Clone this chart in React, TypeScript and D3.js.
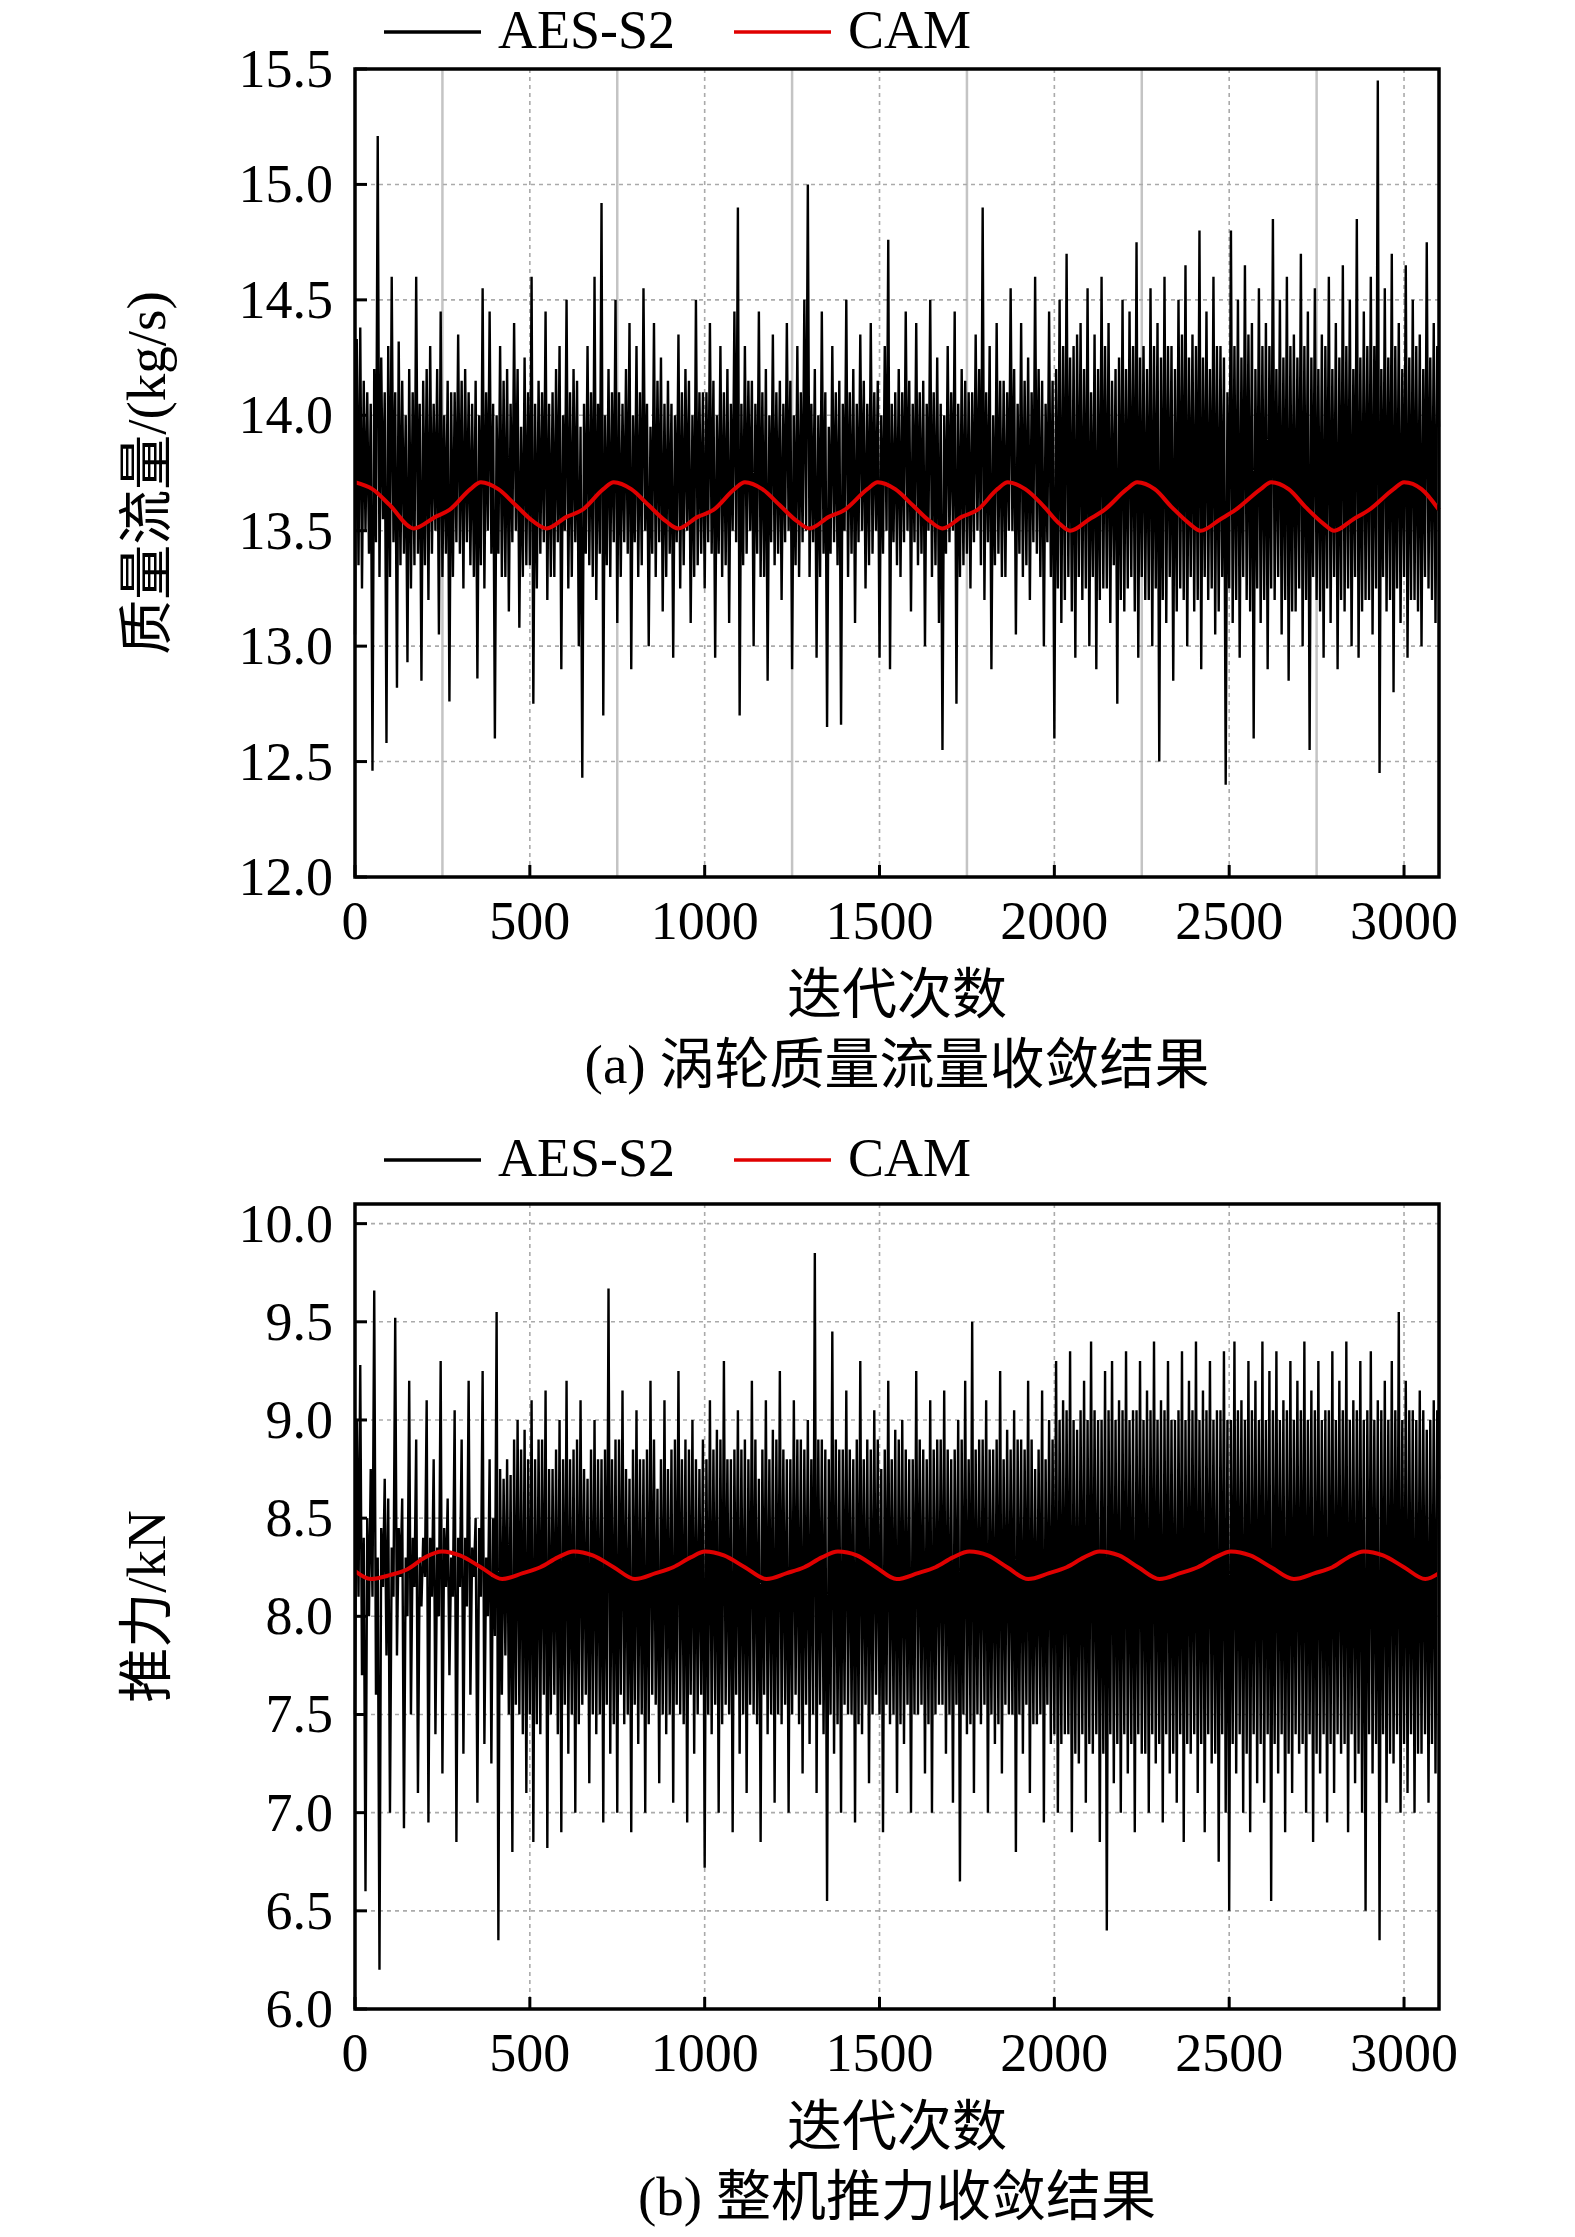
import { curveMonotoneX, line, scaleLinear } from "d3";

// iteration spacing of the sampled AES-S2 values
const iterStep = 5;

// (a) turbine mass flow, kg/s — AES-S2 samples every 5 iterations (one row = 100 iterations)
const flowAES = [
  13.05, 14.33, 13.35, 14.38, 13.25, 14.15, 13.5, 14.1, 13.4, 14.05, 12.46, 14.2, 13.45, 15.21, 13.3, 14.25, 13.55, 14.1, 12.58, 14.3,
  13.3, 14.6, 13.45, 14.1, 12.82, 14.32, 13.35, 14.15, 13.4, 14.0, 12.93, 14.2, 13.25, 14.1, 13.35, 14.6, 13.4, 14.05, 12.85, 14.15,
  13.35, 14.2, 13.2, 14.3, 13.4, 14.05, 13.5, 14.2, 13.05, 14.45, 13.3, 14.0, 13.4, 14.15, 12.76, 14.1, 13.3, 14.1, 13.45, 14.35,
  13.4, 14.15, 13.25, 14.2, 13.45, 14.1, 13.35, 14.05, 13.3, 14.15, 12.86, 14.0, 13.35, 14.55, 13.25, 14.1, 13.5, 14.45, 13.4, 14.05,
  12.6, 14.0, 13.4, 14.3, 13.3, 14.15, 13.3, 14.2, 13.15, 14.05, 13.45, 14.4, 13.5, 14.2, 13.08, 13.95, 13.3, 14.25, 13.35, 14.1,
  13.35, 14.6, 12.75, 14.05, 13.25, 14.15, 13.4, 14.1, 13.45, 14.45, 13.2, 14.05, 13.3, 14.1, 13.3, 14.2, 13.45, 14.3, 12.9, 14.0,
  13.5, 14.5, 13.25, 14.1, 13.3, 14.2, 13.45, 14.15, 13.0, 13.95, 12.43, 14.05, 13.4, 14.3, 13.35, 14.1, 13.3, 14.6, 13.2, 14.05,
  13.4, 14.92, 12.7, 14.0, 13.35, 14.2, 13.3, 14.1, 13.45, 14.5, 13.1, 14.1, 13.3, 14.05, 13.45, 14.2, 13.4, 14.4, 12.9, 14.0,
  13.45, 14.3, 13.3, 14.1, 13.35, 14.55, 13.5, 14.05, 13.0, 13.95, 13.4, 14.4, 13.3, 14.15, 13.45, 14.25, 13.15, 14.05, 13.3, 14.15,
  13.4, 14.05, 12.95, 14.0, 13.45, 14.35, 13.25, 14.1, 13.35, 14.2, 13.5, 14.15, 13.1, 14.0, 13.3, 14.5, 13.35, 14.1, 13.4, 14.1,
  13.25, 14.1, 13.45, 14.4, 13.4, 14.15, 12.95, 14.0, 13.4, 14.3, 13.3, 14.1, 13.35, 14.2, 13.1, 14.05, 13.5, 14.45, 13.45, 14.9,
  12.7, 14.05, 13.35, 14.3, 13.4, 14.15, 13.5, 14.15, 13.0, 14.05, 13.4, 14.45, 13.3, 14.1, 13.3, 14.2, 12.85, 14.0, 13.45, 14.35,
  13.35, 14.1, 13.4, 14.15, 13.2, 14.05, 13.45, 14.4, 13.5, 14.15, 12.9, 14.0, 13.35, 14.3, 13.3, 14.1, 13.45, 14.5, 13.5, 15.0,
  13.3, 14.05, 13.45, 14.2, 12.95, 14.0, 13.3, 14.45, 13.4, 14.1, 12.65, 13.95, 13.4, 14.3, 13.45, 14.1, 13.35, 14.15, 12.66, 14.05,
  13.5, 14.5, 13.3, 14.1, 13.4, 14.2, 13.1, 14.05, 13.45, 14.35, 13.5, 14.15, 13.25, 14.05, 13.35, 14.4, 13.4, 14.1, 13.5, 14.15,
  12.95, 14.0, 13.4, 14.3, 13.5, 14.76, 12.9, 14.05, 13.45, 14.1, 13.35, 14.2, 13.3, 14.1, 13.45, 14.45, 13.5, 14.15, 13.15, 14.05,
  13.45, 14.4, 13.35, 14.1, 13.4, 14.15, 13.0, 14.05, 13.5, 14.5, 13.3, 14.1, 13.35, 14.25, 13.1, 14.05, 12.55, 14.0, 13.4, 14.3,
  13.45, 14.1, 13.5, 14.45, 12.75, 14.05, 13.3, 14.2, 13.35, 14.15, 13.4, 14.1, 13.25, 14.1, 13.45, 14.35, 13.5, 14.2, 13.35, 14.9,
  13.2, 14.1, 13.45, 14.3, 12.9, 14.0, 13.35, 14.4, 13.4, 14.15, 13.3, 14.15, 13.3, 14.1, 13.5, 14.55, 13.5, 14.2, 13.05, 14.05,
  13.4, 14.4, 13.3, 14.15, 13.35, 14.25, 13.2, 14.1, 13.45, 14.6, 13.4, 14.2, 13.3, 14.15, 13.0, 14.05, 13.45, 14.45, 13.3, 14.15,
  12.6, 14.2, 13.25, 14.5, 13.1, 14.3, 13.2, 14.7, 13.3, 14.25, 13.15, 14.3, 12.95, 14.35, 13.3, 14.4, 13.2, 14.2, 13.25, 14.55,
  13.0, 14.1, 13.3, 14.35, 12.9, 14.2, 13.2, 14.6, 13.25, 14.3, 13.25, 14.4, 13.1, 14.15, 13.35, 14.2, 12.75, 14.25, 13.2, 14.5,
  13.15, 14.2, 13.25, 14.45, 13.3, 14.3, 13.15, 14.75, 12.95, 14.25, 13.3, 14.3, 13.2, 14.2, 13.2, 14.55, 13.0, 14.3, 13.25, 14.4,
  12.5, 14.25, 13.2, 14.6, 13.1, 14.3, 13.3, 14.3, 12.85, 14.2, 13.15, 14.5, 13.25, 14.35, 13.2, 14.65, 13.0, 14.25, 13.3, 14.35,
  13.15, 14.3, 13.2, 14.8, 12.9, 14.25, 13.3, 14.45, 13.2, 14.2, 13.25, 14.6, 13.05, 14.3, 13.15, 14.3, 13.3, 14.25, 12.4, 14.1,
  13.25, 14.8, 13.1, 14.3, 13.2, 14.5, 12.95, 14.25, 13.3, 14.65, 13.2, 14.35, 13.15, 14.4, 12.6, 14.2, 13.25, 14.55, 13.1, 14.3,
  13.2, 14.4, 12.9, 14.3, 13.25, 14.85, 13.2, 14.2, 13.3, 14.5, 13.05, 14.25, 13.2, 14.6, 12.85, 14.3, 13.15, 14.35, 13.15, 14.25,
  13.25, 14.7, 13.0, 14.3, 13.2, 14.45, 12.55, 14.25, 13.3, 14.55, 13.2, 14.2, 13.15, 14.35, 12.95, 14.3, 13.25, 14.6, 13.1, 14.2,
  13.3, 14.4, 12.9, 14.25, 13.2, 14.65, 13.15, 14.3, 13.25, 14.5, 13.0, 14.2, 13.3, 14.85, 12.95, 14.25, 13.15, 14.45, 13.2, 14.3,
  13.2, 14.6, 13.05, 14.3, 13.25, 15.45, 12.45, 14.2, 13.3, 14.55, 13.15, 14.25, 13.2, 14.7, 12.8, 14.3, 13.25, 14.4, 13.1, 14.2,
  13.3, 14.65, 12.95, 14.25, 13.2, 14.5, 13.2, 14.3, 13.15, 14.35, 13.0, 14.2, 13.3, 14.75, 13.25, 14.25, 13.2, 14.4, 13.1, 14.3, 13.95,
];

// (a) CAM curve, [iteration, kg/s]
const flowCAM: [number, number][] = [
  [0, 13.71], [50, 13.68], [100, 13.61], [168, 13.51], [230, 13.56], [270, 13.59], [330, 13.68], [360, 13.71],
  [410, 13.68], [460, 13.61], [510, 13.54], [548, 13.51], [605, 13.56], [650, 13.59], [710, 13.68], [740, 13.71],
  [790, 13.68], [840, 13.61], [890, 13.54], [924, 13.51], [980, 13.56], [1025, 13.59], [1085, 13.68], [1115, 13.71],
  [1165, 13.68], [1215, 13.61], [1265, 13.54], [1300, 13.51], [1355, 13.56], [1400, 13.59], [1465, 13.68], [1495, 13.71],
  [1545, 13.68], [1595, 13.61], [1645, 13.54], [1680, 13.51], [1735, 13.56], [1780, 13.59], [1837, 13.68], [1867, 13.71],
  [1917, 13.68], [1967, 13.61], [2015, 13.53], [2045, 13.5], [2100, 13.55], [2143, 13.59], [2207, 13.68], [2237, 13.71],
  [2287, 13.68], [2337, 13.6], [2387, 13.53], [2418, 13.5], [2475, 13.55], [2518, 13.59], [2590, 13.68], [2620, 13.71],
  [2670, 13.68], [2720, 13.6], [2770, 13.53], [2800, 13.5], [2855, 13.55], [2900, 13.59], [2970, 13.68], [3000, 13.71],
  [3050, 13.68], [3100, 13.59],
];

// (b) engine thrust, kN — AES-S2 samples every 5 iterations (one row = 100 iterations)
const thrustAES = [
  7.5, 9.0, 8.1, 9.28, 7.7, 8.4, 6.6, 8.5, 8.0, 8.75, 8.1, 9.66, 7.6, 8.3, 6.2, 8.45, 8.15, 8.7, 7.8, 8.6,
  7.0, 8.35, 8.1, 9.52, 7.8, 8.45, 8.2, 8.6, 6.92, 8.3, 8.0, 9.2, 7.5, 8.4, 8.15, 8.9, 7.1, 8.3, 8.05, 8.4,
  8.2, 9.1, 6.95, 8.4, 8.1, 8.8, 7.4, 8.35, 8.0, 9.3, 7.2, 8.45, 8.15, 8.6, 7.7, 8.3, 8.1, 9.05, 6.85, 8.4,
  8.15, 8.9, 7.3, 8.4, 8.05, 9.2, 7.6, 8.35, 8.2, 8.5, 7.05, 8.45, 8.1, 9.25, 7.35, 8.3, 8.0, 8.8, 7.25, 8.5,
  7.9, 9.55, 6.35, 8.75, 7.6, 8.7, 7.8, 8.8, 7.5, 8.72, 6.8, 8.9, 7.55, 9.0, 7.5, 8.85, 7.4, 8.95, 7.1, 8.8,
  7.5, 9.1, 6.85, 8.8, 7.45, 8.9, 7.4, 8.9, 7.6, 9.15, 6.82, 8.75, 7.5, 8.75, 7.6, 8.85, 7.4, 9.0, 6.9, 8.8,
  7.55, 9.2, 7.3, 8.8, 7.5, 8.85, 7.0, 8.9, 7.45, 9.1, 7.55, 8.75, 7.6, 8.7, 7.15, 8.85, 7.5, 9.0, 7.4, 8.8,
  7.5, 8.8, 6.95, 8.85, 7.55, 9.67, 7.3, 8.8, 7.45, 8.9, 7.0, 8.9, 7.6, 9.15, 7.45, 8.75, 7.5, 8.7, 6.9, 8.85,
  7.55, 9.05, 7.35, 8.8, 7.5, 8.8, 7.0, 8.85, 7.45, 9.2, 7.6, 8.9, 7.55, 8.65, 7.15, 8.8, 7.5, 9.1, 7.4, 8.75,
  7.5, 8.85, 7.05, 8.9, 7.55, 9.25, 7.5, 8.8, 7.45, 8.9, 6.95, 8.85, 7.6, 9.0, 7.3, 8.8, 7.5, 8.75, 7.6, 8.9,
  6.72, 8.8, 7.5, 9.1, 7.4, 8.85, 7.55, 8.95, 7.0, 8.9, 7.45, 9.3, 7.55, 8.8, 7.5, 8.8, 6.9, 8.85, 7.6, 9.05,
  7.3, 8.85, 7.5, 8.9, 7.1, 8.8, 7.55, 9.2, 7.5, 8.9, 7.45, 8.7, 6.85, 8.85, 7.6, 9.1, 7.4, 8.8, 7.5, 8.95,
  7.05, 8.9, 7.5, 9.25, 7.45, 8.85, 7.55, 8.8, 7.0, 8.8, 7.5, 9.1, 7.6, 8.9, 7.45, 8.9, 7.2, 8.85, 7.55, 9.0,
  7.35, 8.8, 7.5, 9.85, 7.1, 8.9, 7.55, 8.9, 7.4, 8.85, 6.55, 8.8, 7.5, 9.45, 7.3, 8.9, 7.45, 8.85, 7.0, 8.85,
  7.55, 9.15, 7.5, 8.85, 7.5, 8.8, 6.95, 8.9, 7.45, 9.3, 7.4, 8.8, 7.55, 8.9, 7.15, 8.85, 7.5, 9.05, 7.6, 8.9,
  7.5, 8.75, 6.9, 8.85, 7.55, 9.2, 7.45, 8.8, 7.5, 8.95, 7.1, 8.9, 7.45, 9.0, 7.35, 8.85, 7.55, 8.8, 7.0, 8.8,
  7.5, 9.25, 7.5, 8.9, 7.55, 8.85, 7.2, 8.8, 7.45, 9.1, 7.0, 8.85, 7.5, 8.9, 7.55, 8.9, 7.55, 9.15, 7.3, 8.85,
  7.5, 8.8, 7.05, 8.85, 7.55, 9.0, 6.65, 8.9, 7.5, 9.2, 7.4, 8.8, 7.45, 9.5, 7.1, 8.85, 7.5, 8.9, 7.45, 8.9,
  7.55, 9.1, 7.0, 8.85, 7.5, 8.85, 7.35, 8.9, 7.45, 9.25, 7.2, 8.8, 7.55, 8.95, 7.5, 8.85, 7.5, 9.05, 6.8, 8.9,
  7.5, 8.9, 7.3, 8.85, 7.55, 9.2, 7.1, 8.9, 7.45, 8.75, 7.45, 8.85, 7.5, 9.15, 6.95, 8.8, 7.55, 9.0, 7.35, 8.9,
  7.4, 9.3, 7.0, 9.0, 7.35, 9.1, 7.4, 9.05, 7.4, 9.35, 6.9, 9.0, 7.3, 8.95, 7.25, 9.05, 7.4, 9.2, 7.05, 9.0,
  7.35, 9.4, 7.3, 9.05, 7.4, 9.0, 6.85, 9.0, 7.3, 9.25, 6.4, 9.05, 7.4, 9.3, 7.15, 9.0, 7.35, 9.1, 7.0, 9.05,
  7.4, 9.35, 7.2, 9.0, 7.35, 9.05, 6.9, 9.05, 7.4, 9.3, 7.3, 9.0, 7.3, 9.15, 7.0, 9.05, 7.4, 9.4, 7.25, 9.0,
  7.35, 9.1, 6.95, 9.05, 7.4, 9.3, 7.2, 9.0, 7.3, 9.0, 7.05, 9.05, 7.4, 9.35, 6.85, 9.0, 7.35, 9.2, 7.3, 9.05,
  7.4, 9.4, 7.1, 9.0, 7.35, 9.15, 6.9, 9.05, 7.4, 9.3, 7.25, 9.0, 7.3, 9.05, 6.75, 9.05, 7.4, 9.35, 7.0, 9.0,
  6.5, 9.0, 7.35, 9.4, 7.2, 9.05, 7.4, 9.1, 7.0, 9.0, 7.3, 9.3, 6.9, 9.05, 7.4, 9.2, 7.15, 9.0, 7.35, 9.4,
  7.05, 9.0, 7.4, 9.25, 6.55, 9.05, 7.35, 9.35, 7.2, 9.0, 7.4, 9.1, 6.9, 9.05, 7.3, 9.3, 7.1, 9.0, 7.4, 9.2,
  7.3, 9.05, 7.35, 9.4, 7.0, 9.0, 7.4, 9.15, 6.85, 9.05, 7.3, 9.3, 7.2, 9.0, 7.4, 9.05, 6.95, 9.05, 7.35, 9.35,
  7.1, 9.0, 7.4, 9.2, 7.3, 9.05, 7.35, 9.4, 6.9, 9.0, 7.4, 9.1, 7.15, 9.05, 7.3, 9.3, 7.0, 9.0, 6.5, 9.05,
  7.4, 9.35, 7.2, 9.0, 7.35, 9.1, 6.35, 9.05, 7.4, 9.2, 7.05, 9.0, 7.3, 9.3, 7.25, 9.05, 7.4, 9.55, 7.0, 9.0,
  7.35, 9.2, 7.1, 9.05, 7.4, 9.05, 7.0, 9.0, 7.3, 9.15, 7.3, 9.05, 7.4, 8.95, 7.05, 9.0, 7.35, 9.1, 7.2, 9.05, 8.7,
];

// (b) CAM curve, [iteration, kN]
const thrustCAM: [number, number][] = [
  [0, 8.23], [45, 8.19], [100, 8.21], [150, 8.24], [200, 8.3], [249, 8.33], [300, 8.31], [360, 8.25], [421, 8.19],
  [480, 8.22], [530, 8.25], [580, 8.3], [625, 8.33], [680, 8.31], [740, 8.25], [801, 8.19],
  [860, 8.22], [910, 8.25], [960, 8.3], [1001, 8.33], [1055, 8.31], [1115, 8.25], [1177, 8.19],
  [1235, 8.22], [1285, 8.25], [1335, 8.3], [1381, 8.33], [1435, 8.31], [1490, 8.25], [1549, 8.19],
  [1610, 8.22], [1660, 8.25], [1710, 8.3], [1757, 8.33], [1810, 8.31], [1865, 8.25], [1925, 8.19],
  [1985, 8.22], [2035, 8.25], [2085, 8.3], [2129, 8.33], [2185, 8.31], [2240, 8.25], [2301, 8.19],
  [2360, 8.22], [2410, 8.25], [2460, 8.3], [2505, 8.33], [2560, 8.31], [2620, 8.25], [2685, 8.19],
  [2745, 8.22], [2795, 8.25], [2840, 8.3], [2885, 8.33], [2940, 8.31], [3000, 8.25], [3061, 8.19],
  [3100, 8.22],
];

const xTicks = [0, 500, 1000, 1500, 2000, 2500, 3000];
const xMinorTicks = [250, 750, 1250, 1750, 2250, 2750];
const flowTicks = [12.0, 12.5, 13.0, 13.5, 14.0, 14.5, 15.0, 15.5];
const thrustTicks = [6.0, 6.5, 7.0, 7.5, 8.0, 8.5, 9.0, 9.5, 10.0];

const seriesNames = ["AES-S2", "CAM"];
const seriesColors = ["#000000", "#e00000"];

const FONT = "'Liberation Serif', 'Times New Roman', 'Noto Sans CJK SC', serif";
const LEFT = 355;
const RIGHT = 1439;

type PanelProps = {
  top: number;
  bottom: number;
  yDomain: [number, number];
  yTicks: number[];
  aes: number[];
  cam: [number, number][];
  yLabel: string;
  caption: string;
  legendY: number;
  minorGrid: boolean;
};

function Panel(p: PanelProps) {
  const x = scaleLinear().domain([0, 3100]).range([LEFT, RIGHT]);
  const y = scaleLinear().domain(p.yDomain).range([p.bottom, p.top]);

  const aesLine = line<number>()
    .x((_, i) => x(i * iterStep))
    .y((d) => y(d));
  const camLine = line<[number, number]>()
    .x((d) => x(d[0]))
    .y((d) => y(d[1]))
    .curve(curveMonotoneX);

  const midY = (p.top + p.bottom) / 2;
  const legendX = [384, 734];
  const legendTextX = [498, 848];

  return (
    <g>
      {/* legend */}
      {seriesNames.map((name, i) => (
        <g key={name}>
          <line x1={legendX[i]} x2={legendX[i] + 97} y1={p.legendY} y2={p.legendY} stroke={seriesColors[i]} strokeWidth={3.5} />
          <text x={legendTextX[i]} y={p.legendY + 16} fontSize={54} fontFamily={FONT}>
            {name}
          </text>
        </g>
      ))}

      {/* grid */}
      {p.minorGrid &&
        xMinorTicks.map((t) => (
          <line key={"m" + t} x1={x(t)} x2={x(t)} y1={p.top} y2={p.bottom} stroke="#c4c4c4" strokeWidth={2.5} />
        ))}
      {xTicks
        .filter((t) => t > 0)
        .map((t) => (
          <line key={"gx" + t} x1={x(t)} x2={x(t)} y1={p.top} y2={p.bottom} stroke="#aaaaaa" strokeWidth={1.6} strokeDasharray="4,4" />
        ))}
      {p.yTicks
        .filter((t) => y(t) > p.top + 2 && y(t) < p.bottom - 2)
        .map((t) => (
          <line key={"gy" + t} x1={LEFT} x2={RIGHT} y1={y(t)} y2={y(t)} stroke="#aaaaaa" strokeWidth={1.6} strokeDasharray="4,4" />
        ))}

      {/* data */}
      <path d={aesLine(p.aes) ?? ""} fill="none" stroke="#000" strokeWidth={2.4} strokeLinejoin="bevel" />
      <path d={camLine(p.cam) ?? ""} fill="none" stroke="#e00000" strokeWidth={4} />

      {/* frame and ticks */}
      <rect x={LEFT} y={p.top} width={RIGHT - LEFT} height={p.bottom - p.top} fill="none" stroke="#000" strokeWidth={3.5} />
      {p.yTicks.map((t) => (
        <g key={"ty" + t}>
          <line x1={LEFT} x2={LEFT + 12} y1={y(t)} y2={y(t)} stroke="#000" strokeWidth={3} />
          <text x={333} y={y(t) + 18} textAnchor="end" fontSize={54} fontFamily={FONT}>
            {t.toFixed(1)}
          </text>
        </g>
      ))}
      {xTicks.map((t) => (
        <g key={"tx" + t}>
          <line x1={x(t)} x2={x(t)} y1={p.bottom} y2={p.bottom - 12} stroke="#000" strokeWidth={3} />
          <text x={x(t)} y={p.bottom + 62} textAnchor="middle" fontSize={54} fontFamily={FONT}>
            {t}
          </text>
        </g>
      ))}

      {/* titles */}
      <text
        transform={`translate(165, ${midY}) rotate(-90)`}
        textAnchor="middle"
        fontSize={55}
        fontFamily={FONT}
      >
        {p.yLabel}
      </text>
      <text x={(LEFT + RIGHT) / 2} y={p.bottom + 136} textAnchor="middle" fontSize={55} fontFamily={FONT}>
        迭代次数
      </text>
      <text x={(LEFT + RIGHT) / 2} y={p.bottom + 206} textAnchor="middle" fontSize={55} fontFamily={FONT}>
        {p.caption}
      </text>
    </g>
  );
}

export default function App() {
  return (
    <svg
      width={1575}
      height={2237}
      style={{ position: "absolute", left: 0, top: 0, background: "#fff" }}
    >
      <rect width={1575} height={2237} fill="#fff" />
      <Panel
        top={69}
        bottom={877}
        yDomain={[12, 15.5]}
        yTicks={flowTicks}
        aes={flowAES}
        cam={flowCAM}
        yLabel="质量流量/(kg/s)"
        caption="(a) 涡轮质量流量收敛结果"
        legendY={32}
        minorGrid={true}
      />
      <Panel
        top={1204}
        bottom={2009}
        yDomain={[6, 10.1]}
        yTicks={thrustTicks}
        aes={thrustAES}
        cam={thrustCAM}
        yLabel="推力/kN"
        caption="(b) 整机推力收敛结果"
        legendY={1160}
        minorGrid={false}
      />
    </svg>
  );
}
